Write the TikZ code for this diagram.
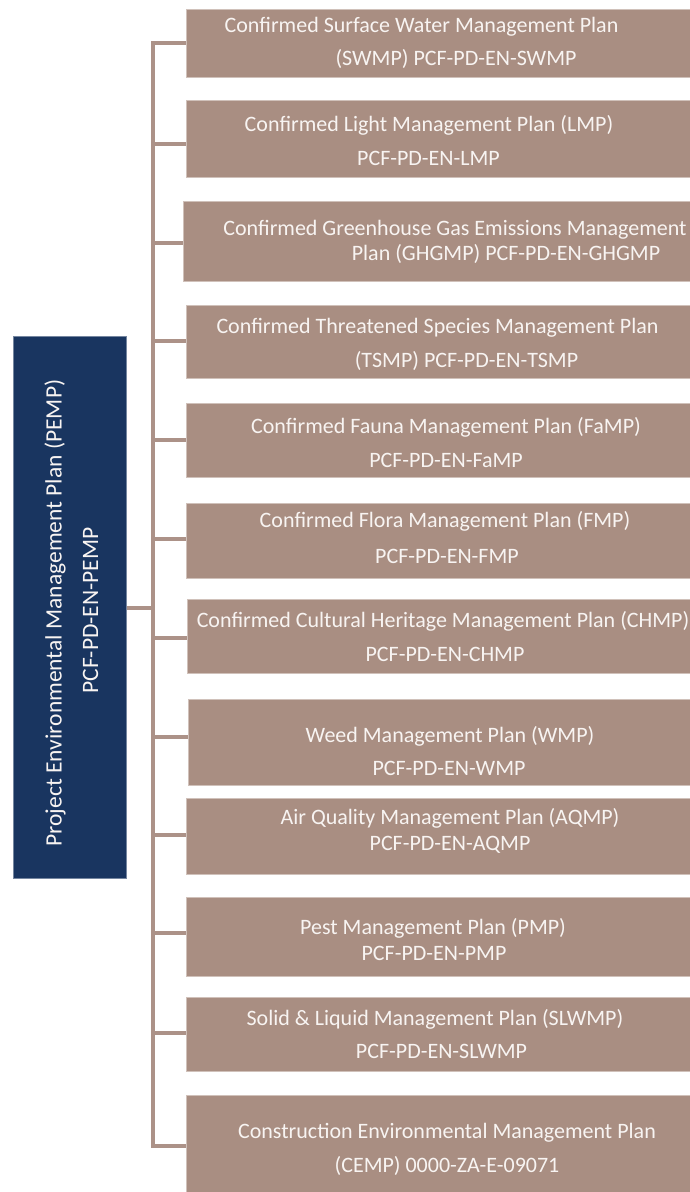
\documentclass[tikz,border=0pt]{standalone}
\usepackage{fontspec}
\setmainfont{Carlito}
\definecolor{taupe}{RGB}{169,142,130}
\definecolor{taupeline}{RGB}{172,146,136}
\definecolor{navy}{RGB}{25,53,96}
\definecolor{txt}{RGB}{248,244,242}
\begin{document}
\begin{tikzpicture}[x=1bp,y=-1bp,
  plan/.style={fill=taupe, draw=taupe!55!white, line width=0.8bp, inner sep=0, anchor=north west},
  lbl/.style={anchor=base, inner sep=0, text=txt, font=\fontsize{22bp}{26bp}\selectfont},
  biglbl/.style={lbl, rotate=90, font=\fontsize{23.5bp}{28bp}\selectfont},
  link/.style={draw=taupeline, line width=4.5bp}]
\useasboundingbox (0,0) rectangle (690,1192);
\fill[white] (0,0) rectangle (690,1192);

% parent box
\node[fill=navy, draw=navy!60!white, line width=0.8bp, inner sep=0, anchor=north west,
      minimum width=113bp, minimum height=542bp] (pemp) at (13,336) {};
\node[biglbl] (pempa) at (61.5,613) {Project Environmental Management Plan (PEMP)};
\node[biglbl] (pempb) at (98,610.5) {PCF-PD-EN-PEMP};

% child boxes
\node[plan, minimum width=504bp, minimum height=68bp] (b1) at (186,9) {};
\node[plan, minimum width=504bp, minimum height=77bp] (b2) at (186,100) {};
\node[plan, minimum width=507bp, minimum height=80bp] (b3) at (183,201) {};
\node[plan, minimum width=504bp, minimum height=73bp] (b4) at (186,305) {};
\node[plan, minimum width=504bp, minimum height=74bp] (b5) at (186,403) {};
\node[plan, minimum width=504bp, minimum height=75bp] (b6) at (186,503) {};
\node[plan, minimum width=503bp, minimum height=74bp] (b7) at (187,599) {};
\node[plan, minimum width=502bp, minimum height=86bp] (b8) at (188,699) {};
\node[plan, minimum width=504bp, minimum height=76bp] (b9) at (186,798) {};
\node[plan, minimum width=504bp, minimum height=79bp] (b10) at (186,897) {};
\node[plan, minimum width=504bp, minimum height=74bp] (b11) at (186,997) {};
\node[plan, minimum width=504bp, minimum height=98bp] (b12) at (186,1095) {};

% labels
\node[lbl] (b1a) at (421.5,32) {Confirmed Surface Water Management Plan};
\node[lbl] (b1b) at (456,65) {(SWMP) PCF-PD-EN-SWMP};
\node[lbl] (b2a) at (429,131) {Confirmed Light Management Plan (LMP)};
\node[lbl] (b2b) at (428.5,165) {PCF-PD-EN-LMP};
\node[lbl] (b3a) at (455,235) {Confirmed Greenhouse Gas Emissions Management};
\node[lbl] (b3b) at (506,260) {Plan (GHGMP) PCF-PD-EN-GHGMP};
\node[lbl] (b4a) at (437.5,333) {Confirmed Threatened Species Management Plan};
\node[lbl] (b4b) at (466.5,367) {(TSMP) PCF-PD-EN-TSMP};
\node[lbl] (b5a) at (446,433) {Confirmed Fauna Management Plan (FaMP)};
\node[lbl] (b5b) at (446,467) {PCF-PD-EN-FaMP};
\node[lbl] (b6a) at (445,527) {Confirmed Flora Management Plan (FMP)};
\node[lbl] (b6b) at (447,563) {PCF-PD-EN-FMP};
\node[lbl] (b7a) at (443,627) {Confirmed Cultural Heritage Management Plan (CHMP)};
\node[lbl] (b7b) at (445,661) {PCF-PD-EN-CHMP};
\node[lbl] (b8a) at (450,742) {Weed Management Plan (WMP)};
\node[lbl] (b8b) at (449,775) {PCF-PD-EN-WMP};
\node[lbl] (b9a) at (450,824) {Air Quality Management Plan (AQMP)};
\node[lbl] (b9b) at (450,850) {PCF-PD-EN-AQMP};
\node[lbl] (b10a) at (433,934) {Pest Management Plan (PMP)};
\node[lbl] (b10b) at (434,960) {PCF-PD-EN-PMP};
\node[lbl] (b11a) at (435,1025) {Solid \& Liquid Management Plan (SLWMP)};
\node[lbl] (b11b) at (441.5,1058) {PCF-PD-EN-SLWMP};
\node[lbl] (b12a) at (447,1138) {Construction Environmental Management Plan};
\node[lbl] (b12b) at (447,1172) {(CEMP) 0000-ZA-E-09071};

% bracket junctions
\coordinate (j0) at (153,608);
\coordinate (j1) at (153,43);
\coordinate (j2) at (153,144);
\coordinate (j3) at (153,243);
\coordinate (j4) at (153,341);
\coordinate (j5) at (153,440);
\coordinate (j6) at (153,539);
\coordinate (j7) at (153,638);
\coordinate (j8) at (153,737);
\coordinate (j9) at (153,835);
\coordinate (j10) at (153,933);
\coordinate (j11) at (153,1033);
\coordinate (j12) at (153,1146);

\draw[link, line cap=rect] (j1) -- (j12);
\draw[link] (pemp.east |- j0) -- (j0);
\foreach \i in {1,...,12} {
  \draw[link] (j\i) -- (b\i.west |- j\i);
}
\end{tikzpicture}
\end{document}
